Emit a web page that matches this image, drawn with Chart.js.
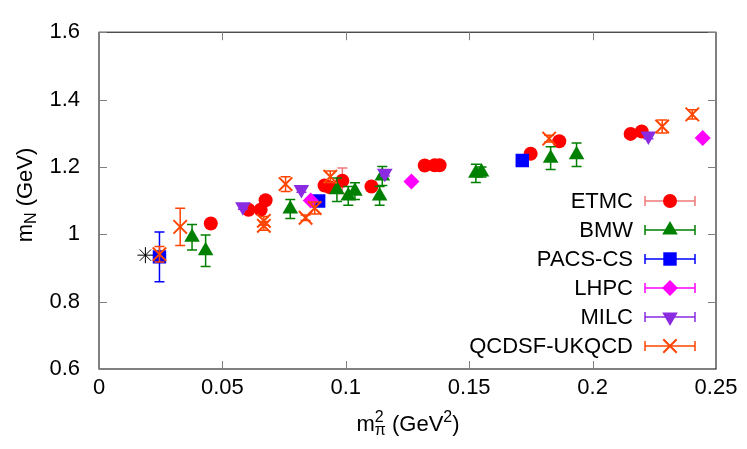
<!DOCTYPE html>
<html>
<head>
<meta charset="utf-8">
<script src="https://cdn.jsdelivr.net/npm/chart.js@4/dist/chart.umd.min.js"></script>
<style>
  html, body { margin: 0; padding: 0; background: #fff; }
  canvas { display: block; }
</style>
</head>
<body>
<canvas id="massChart" width="747" height="449"></canvas>
<script>
// axis ticks
const xTicks = [0, 0.05, 0.1, 0.15, 0.2, 0.25];
const xTickLabels = ['0', '0.05', '0.1', '0.15', '0.2', '0.25'];
const yTicks = [0.6, 0.8, 1.0, 1.2, 1.4, 1.6];
const yTickLabels = ['0.6', '0.8', '1', '1.2', '1.4', '1.6'];

// ETMC
const etmcX = [0.0453, 0.0606, 0.0655, 0.0675, 0.0914, 0.0934, 0.0986, 0.1104, 0.132, 0.136, 0.138, 0.1749, 0.1865, 0.2154, 0.2199];
const etmcY = [1.032, 1.073, 1.073, 1.101, 1.145, 1.140, 1.159, 1.142, 1.204, 1.205, 1.205, 1.239, 1.276, 1.298, 1.305];
const etmcErr = [0.010, 0.010, 0.010, 0.010, 0.010, 0.010, 0.038, 0.010, 0.008, 0.008, 0.008, 0.010, 0.010, 0.008, 0.008];

// BMW
const bmwX = [0.0377, 0.0432, 0.0775, 0.0964, 0.101, 0.1037, 0.1137, 0.1148, 0.1527, 0.155, 0.183, 0.1935];
const bmwY = [0.991, 0.951, 1.075, 1.132, 1.114, 1.128, 1.114, 1.173, 1.181, 1.185, 1.226, 1.236];
const bmwErr = [0.038, 0.047, 0.028, 0.035, 0.028, 0.025, 0.028, 0.028, 0.027, 0.015, 0.034, 0.035];

// PACS-CS
const pacsX = [0.0245, 0.089, 0.1715];
const pacsY = [0.933, 1.099, 1.219];
const pacsErr = [0.074, 0.010, 0.010];

// LHPC
const lhpcX = [0.0858, 0.1266, 0.2446];
const lhpcY = [1.100, 1.157, 1.286];
const lhpcErr = [0.006, 0.006, 0.006];

// MILC
const milcX = [0.0583, 0.082, 0.1158, 0.2226];
const milcY = [1.082, 1.133, 1.181, 1.292];
const milcErr = [0.008, 0.008, 0.008, 0.008];

// QCDSF-UKQCD
const qcdsfX = [0.0245, 0.0329, 0.0668, 0.0668, 0.0756, 0.0837, 0.0874, 0.0937, 0.1824, 0.2282, 0.2404];
const qcdsfY = [0.941, 1.022, 1.040, 1.025, 1.149, 1.049, 1.078, 1.171, 1.284, 1.320, 1.356];
const qcdsfErr = [0.023, 0.055, 0.013, 0.013, 0.022, 0.008, 0.018, 0.017, 0.010, 0.019, 0.014];

// physical point
const physX = [0.0188];
const physY = [0.938];

const FONT = '"Liberation Sans", Arial, sans-serif';
const FONT_SIZE = 22;

const toPoints = (xs, ys) => xs.map((x, i) => ({ x: x, y: ys[i] }));

const series = [
    { label: 'ETMC', x: etmcX, y: etmcY, err: etmcErr, color: '#ff0000', barColor: '#f07878', style: 'circle', radius: 7, rotation: 0 },
    { label: 'BMW', x: bmwX, y: bmwY, err: bmwErr, color: '#008000', barColor: '#008000', style: 'triangle', radius: 9, rotation: 0 },
    { label: 'PACS-CS', x: pacsX, y: pacsY, err: pacsErr, color: '#0000ff', barColor: '#0000ff', style: 'rect', radius: 9.5, rotation: 0 },
    { label: 'LHPC', x: lhpcX, y: lhpcY, err: lhpcErr, color: '#ff00ff', barColor: '#ff00ff', style: 'rectRot', radius: 8, rotation: 0 },
    { label: 'MILC', x: milcX, y: milcY, err: milcErr, color: '#8a2be2', barColor: '#8a2be2', style: 'triangle', radius: 9, rotation: 180 },
    { label: 'QCDSF-UKQCD', x: qcdsfX, y: qcdsfY, err: qcdsfErr, color: '#ff4500', barColor: '#ff4500', style: 'crossRot', radius: 9.5, rotation: 0 }
];

const datasets = series.map((s, i) => ({
    label: s.label,
    data: toPoints(s.x, s.y),
    err: s.err,
    barColor: s.barColor,
    pointStyle: s.style,
    pointRadius: s.radius,
    pointRotation: s.rotation,
    backgroundColor: s.color,
    borderColor: s.color,
    borderWidth: s.style === 'crossRot' ? 2 : 0,
    showLine: false,
    order: series.length - i
}));

datasets.push({
    label: 'physical',
    data: toPoints(physX, physY),
    pointStyle: 'star',
    pointRadius: 8,
    borderColor: '#000000',
    backgroundColor: '#000000',
    borderWidth: 1,
    showLine: false,
    order: 10
});

// vertical error bars with caps, drawn just before each dataset's markers
const errorBars = {
    id: 'errorBars',
    beforeDatasetDraw(chart, args) {
        const ds = chart.data.datasets[args.index];
        if (!ds.err) return;
        const { ctx, scales: { x, y } } = chart;
        ctx.save();
        ctx.strokeStyle = ds.barColor;
        ctx.lineWidth = 1.5;
        ds.data.forEach((p, i) => {
            const px = x.getPixelForValue(p.x);
            const top = y.getPixelForValue(p.y + ds.err[i]);
            const bot = y.getPixelForValue(p.y - ds.err[i]);
            ctx.beginPath();
            ctx.moveTo(px, top); ctx.lineTo(px, bot);
            ctx.moveTo(px - 5, top); ctx.lineTo(px + 5, top);
            ctx.moveTo(px - 5, bot); ctx.lineTo(px + 5, bot);
            ctx.stroke();
        });
        ctx.restore();
    }
};

// gnuplot-like frame with inward ticks on all sides
const frame = {
    id: 'frame',
    afterDatasetsDraw(chart) {
        const { ctx, chartArea: a, scales: { x, y } } = chart;
        ctx.save();
        ctx.strokeStyle = '#000';
        ctx.lineWidth = 1;
        ctx.strokeRect(a.left, a.top, a.right - a.left, a.bottom - a.top);
        ctx.beginPath();
        xTicks.forEach(v => {
            const px = Math.round(x.getPixelForValue(v)) + 0.5;
            ctx.moveTo(px, a.bottom); ctx.lineTo(px, a.bottom - 8);
            ctx.moveTo(px, a.top); ctx.lineTo(px, a.top + 8);
        });
        yTicks.forEach(v => {
            const py = Math.round(y.getPixelForValue(v)) + 0.5;
            ctx.moveTo(a.left, py); ctx.lineTo(a.left + 8, py);
            ctx.moveTo(a.right, py); ctx.lineTo(a.right - 8, py);
        });
        ctx.strokeStyle = '#808080';
        ctx.stroke();
        ctx.restore();
    }
};

function drawMarker(ctx, s, cx, cy) {
    const opts = {
        pointStyle: s.style,
        radius: s.radius,
        rotation: s.rotation,
        borderWidth: s.style === 'crossRot' ? 2 : 0
    };
    ctx.fillStyle = s.color;
    ctx.strokeStyle = s.color;
    ctx.lineWidth = opts.borderWidth;
    Chart.helpers.drawPoint(ctx, opts, cx, cy);
}

// legend in the lower right: right-aligned text, then an error-bar sample
const sideLegend = {
    id: 'sideLegend',
    afterDraw(chart) {
        const ctx = chart.ctx;
        ctx.save();
        ctx.font = FONT_SIZE + 'px ' + FONT;
        ctx.textAlign = 'right';
        ctx.textBaseline = 'middle';
        series.forEach((s, i) => {
            const yy = 201 + i * 29;
            ctx.fillStyle = '#000';
            ctx.fillText(s.label, 633, yy + 1);
            ctx.strokeStyle = s.barColor;
            ctx.lineWidth = 1.5;
            ctx.beginPath();
            ctx.moveTo(645, yy); ctx.lineTo(695, yy);
            ctx.moveTo(645, yy - 5); ctx.lineTo(645, yy + 5);
            ctx.moveTo(695, yy - 5); ctx.lineTo(695, yy + 5);
            ctx.stroke();
            drawMarker(ctx, s, 670, yy);
        });
        ctx.restore();
    }
};

// axis titles with sub/superscripts
const axisTitles = {
    id: 'axisTitles',
    afterDraw(chart) {
        const ctx = chart.ctx;
        const big = FONT_SIZE + 'px ' + FONT;
        const small = '16px ' + FONT;
        ctx.save();
        ctx.fillStyle = '#000';
        ctx.textBaseline = 'alphabetic';
        ctx.textAlign = 'left';

        // x title: m^2_pi (GeV^2)
        ctx.font = big;
        const wm = ctx.measureText('m').width;
        const wg = ctx.measureText(' (GeV').width;
        const wp = ctx.measureText(')').width;
        ctx.font = small;
        const ws = Math.max(ctx.measureText('2').width, ctx.measureText('\u03c0').width);
        const w2 = ctx.measureText('2').width;
        const total = wm + ws + wg + w2 + wp;
        let cx = 408 - total / 2;
        const base = 431;
        ctx.font = big;
        ctx.fillText('m', cx, base); cx += wm;
        ctx.font = small;
        ctx.fillText('2', cx, base - 9);
        ctx.fillText('\u03c0', cx, base + 4);
        cx += ws;
        ctx.font = big;
        ctx.fillText(' (GeV', cx, base); cx += wg;
        ctx.font = small;
        ctx.fillText('2', cx, base - 9); cx += w2;
        ctx.font = big;
        ctx.fillText(')', cx, base);

        // y title: m_N (GeV)
        ctx.translate(32, 195);
        ctx.rotate(-Math.PI / 2);
        ctx.font = big;
        const a = ctx.measureText('m').width;
        const c = ctx.measureText(' (GeV)').width;
        ctx.font = small;
        const b = ctx.measureText('N').width;
        let ty = -(a + b + c) / 2;
        ctx.font = big;
        ctx.fillText('m', ty, 0); ty += a;
        ctx.font = small;
        ctx.fillText('N', ty, 4); ty += b;
        ctx.font = big;
        ctx.fillText(' (GeV)', ty, 0);
        ctx.restore();
    }
};

new Chart(document.getElementById('massChart'), {
    type: 'scatter',
    data: { datasets: datasets },
    plugins: [errorBars, frame, sideLegend, axisTitles],
    options: {
        responsive: false,
        animation: false,
        devicePixelRatio: 1,
        layout: { padding: { top: 22, right: 31, left: 0, bottom: 0 } },
        plugins: {
            legend: { display: false },
            tooltip: { enabled: false }
        },
        scales: {
            x: {
                type: 'linear',
                min: 0,
                max: 0.25,
                afterBuildTicks: (scale) => { scale.ticks = xTicks.map(v => ({ value: v })); },
                afterFit: (scale) => { scale.height = 80; },
                grid: { display: false, drawTicks: false },
                border: { display: false },
                ticks: {
                    padding: 6,
                    color: '#000',
                    font: { family: FONT, size: FONT_SIZE },
                    maxRotation: 0,
                    callback: (value, index) => xTickLabels[index]
                }
            },
            y: {
                type: 'linear',
                min: 0.6,
                max: 1.6,
                afterBuildTicks: (scale) => { scale.ticks = yTicks.map(v => ({ value: v })); },
                afterFit: (scale) => { scale.width = 99; },
                grid: { display: false, drawTicks: false },
                border: { display: false },
                ticks: {
                    padding: 19,
                    color: '#000',
                    font: { family: FONT, size: FONT_SIZE },
                    callback: (value, index) => yTickLabels[index]
                }
            }
        }
    }
});
</script>
</body>
</html>
